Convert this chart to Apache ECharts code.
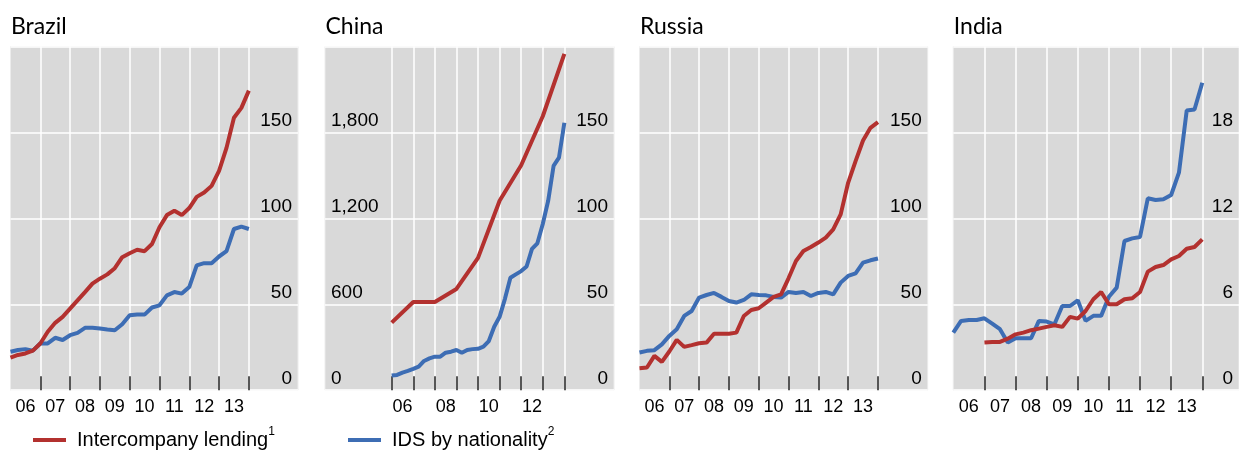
<!DOCTYPE html>
<html>
<head>
<meta charset="utf-8">
<script src="https://cdn.jsdelivr.net/npm/echarts@6/dist/echarts.min.js"></script>
<style>
  html, body { margin: 0; padding: 0; background: #fff; }
  #chart { width: 1239px; height: 451px; }
</style>
</head>
<body>
<div id="chart"></div>
<script>
// quarterly observations, start of 2006 to end of 2013 (33 points)
const brazilLending = [18.9, 20.5, 21.4, 23, 27.2, 34, 39.2, 42.7, 47.5, 52.3, 57.1, 62, 64.9, 67.4, 71, 77.4, 79.7,
  81.7, 80.9, 85.1, 94.8, 101.9, 104.4, 101.9, 106, 112.5, 115, 118.9, 127.6, 141, 158.5, 164.3, 174.3]
const brazilIds = [22.4, 23.4, 23.9, 23, 27.2, 27.2, 30.5, 29.2, 32, 33.4, 36.3, 36.3, 35.9, 35.3, 34.9, 38.4, 43.6,
  44, 44, 48.1, 49.4, 55.2, 57.1, 56.2, 60, 72.6, 73.9, 73.9, 77.8, 80.9, 93.8, 95.2, 93.8]

// China lending is annual (left scale), IDS quarterly (right scale)
const chinaYears = [2006, 2007, 2008, 2009, 2010, 2011, 2012, 2013, 2014]
const chinaLending = [472, 616, 616, 707, 924, 1323, 1571, 1913, 2349]
const chinaIds = [8.5, 8.9, 10.2, 11.2, 12.4, 13.7, 17, 18.5, 19.5, 19.5, 21.8, 22.4, 23.4, 21.8, 23.4, 23.9, 24.1,
  25.3, 28.6, 36.9, 42.7, 53.3, 65.4, 67.4, 69.3, 72, 82.2, 85.5, 96.7, 110.2, 130.5, 135.3, 155.6]

const russiaLending = [12.8, 13.2, 20, 16.5, 22.5, 29.3, 25.2, 26.2, 27.3, 27.7, 32.9, 32.9, 32.9, 33.5, 43.2, 46.7,
  47.7, 51, 54.3, 55.8, 65.1, 75.2, 81, 83.3, 85.9, 88.8, 93.6, 102.3, 120.7, 133.3, 145.3, 152.7, 156]
const russiaIds = [21.9, 22.9, 23.3, 26.7, 31.6, 35.5, 43.2, 46.1, 53.9, 55.4, 56.6, 54.3, 51.9, 51, 52.5, 55.8, 55.4,
  55.2, 54.3, 53.9, 57.2, 56.6, 57.2, 54.8, 56.6, 57.2, 55.8, 62.6, 66.5, 68, 74.2, 75.6, 76.6]

// India lending starts in 2007 (29 points)
const indiaLending = [3.33, 3.37, 3.37, 3.6, 3.9, 4.02, 4.19, 4.3, 4.42, 4.53, 4.42, 5.12, 5, 5.53, 6.35, 6.86, 6, 6,
  6.35, 6.42, 6.86, 8.28, 8.6, 8.74, 9.14, 9.37, 9.88, 10, 10.53]
const indiaIds = [4.02, 4.84, 4.9, 4.9, 5.02, 4.65, 4.26, 3.33, 3.63, 3.63, 3.63, 4.84, 4.79, 4.6, 5.88, 5.88, 6.28,
  4.84, 5.19, 5.19, 6.53, 7.16, 10.42, 10.6, 10.7, 13.4, 13.28, 13.33, 13.63, 15.19, 19.53, 19.6, 21.47]

const yearTicks = [2007, 2008, 2009, 2010, 2011, 2012, 2013, 2014]
const chinaYearTicks = [2006, 2007, 2008, 2009, 2010, 2011, 2012, 2013, 2014]
const yearLabels = [2006.5, 2007.5, 2008.5, 2009.5, 2010.5, 2011.5, 2012.5, 2013.5]
const chinaYearLabels = [2006.5, 2008.5, 2010.5, 2012.5]

const RED = '#b3312f'
const BLUE = '#3d6db4'
const NUM_FONT = '"Liberation Sans", Arial, sans-serif'

// dates for quarterly series
const quarterDates = (from, n) => Array.from({ length: n }, (_, i) => from + i / 4)
const toPairs = (xs, ys) => ys.map((v, i) => [xs[i], v])

const panels = [
  { name: 'Brazil', left: 10.5, width: 287.5, min: 2006, max: 2015.65, ticks: yearTicks, labels: yearLabels },
  { name: 'China', left: 325, width: 289, min: 2002.91, max: 2016.3, ticks: chinaYearTicks, labels: chinaYearLabels },
  { name: 'Russia', left: 639.5, width: 288.2, min: 2006, max: 2015.67, ticks: yearTicks, labels: yearLabels },
  { name: 'India', left: 953.3, width: 287, min: 2006, max: 2015.18, ticks: yearTicks, labels: yearLabels }
]

const yLabel = {
  inside: true,
  showMaxLabel: false,
  margin: 6,
  fontSize: 19,
  lineHeight: 23,
  verticalAlign: 'bottom',
  color: '#000',
  fontFamily: NUM_FONT
}

const makeY = (gridIndex, position, max, interval, split, fmt) => ({
  type: 'value',
  gridIndex,
  position,
  min: 0,
  max,
  interval,
  axisLine: { show: false },
  axisTick: { show: false },
  splitLine: { show: split, lineStyle: { color: '#fff', width: 1.5 } },
  axisLabel: Object.assign({}, yLabel, fmt ? { formatter: fmt } : {})
})

const lineSeries = (name, color, xi, yi, data) => ({
  name,
  type: 'line',
  xAxisIndex: xi,
  yAxisIndex: yi,
  data,
  showSymbol: false,
  symbol: 'none',
  lineStyle: { width: 4, color },
  itemStyle: { color },
  z: 3
})

const legendItem = (name, left, sup) => ({
  data: [name],
  left,
  top: 426,
  padding: 0,
  icon: 'rect',
  itemWidth: 33,
  itemHeight: 4,
  formatter: (n) => `{a|${n}}{s|${sup}}`,
  textStyle: {
    padding: [0, 0, 0, 6],
    rich: {
      a: { fontSize: 20, lineHeight: 28, color: '#000', fontFamily: NUM_FONT },
      s: { fontSize: 12, lineHeight: 12, verticalAlign: 'top', color: '#000', fontFamily: NUM_FONT }
    }
  }
})

const generateChartOption = () => {
  const q33 = quarterDates(2006, 33)
  const q29 = quarterDates(2007, 29)

  return {
    animation: false,
    title: panels.map((p) => ({
      text: p.name,
      left: p.left + 0.5,
      top: 15,
      padding: 0,
      textStyle: { fontFamily: 'Lato', fontSize: 23, fontWeight: 'normal', color: '#000' }
    })),
    legend: [
      legendItem('Intercompany lending', 33, 1),
      legendItem('IDS by nationality', 348, 2)
    ],
    grid: panels.map((p) => ({
      left: p.left,
      width: p.width,
      top: 46.5,
      height: 343.7,
      show: true,
      backgroundColor: '#d9d9d9',
      borderColor: '#ececec',
      borderWidth: 1
    })),
    xAxis: panels.map((p, i) => ({
      type: 'value',
      gridIndex: i,
      min: p.min,
      max: p.max,
      axisLine: { show: false },
      axisTick: {
        show: true,
        inside: true,
        length: 14,
        customValues: p.ticks,
        lineStyle: { color: '#222', width: 1.5 }
      },
      splitLine: { show: true, lineStyle: { color: '#fff', width: 1.5 } },
      axisLabel: {
        customValues: p.labels,
        formatter: (v) => String(Math.floor(v) % 100).padStart(2, '0'),
        fontSize: 18,
        margin: 8,
        color: '#000',
        fontFamily: NUM_FONT
      }
    })),
    yAxis: [
      makeY(0, 'right', 200, 50, true),
      makeY(1, 'left', 2400, 600, true, (v) => v.toLocaleString('en-US')),
      makeY(1, 'right', 200, 50, false),
      makeY(2, 'right', 200, 50, true),
      makeY(3, 'right', 24, 6, true)
    ],
    series: [
      lineSeries('IDS by nationality', BLUE, 0, 0, toPairs(q33, brazilIds)),
      lineSeries('Intercompany lending', RED, 0, 0, toPairs(q33, brazilLending)),
      lineSeries('IDS by nationality', BLUE, 1, 2, toPairs(q33, chinaIds)),
      lineSeries('Intercompany lending', RED, 1, 1, toPairs(chinaYears, chinaLending)),
      lineSeries('IDS by nationality', BLUE, 2, 3, toPairs(q33, russiaIds)),
      lineSeries('Intercompany lending', RED, 2, 3, toPairs(q33, russiaLending)),
      lineSeries('IDS by nationality', BLUE, 3, 4, toPairs(q33, indiaIds)),
      lineSeries('Intercompany lending', RED, 3, 4, toPairs(q29, indiaLending))
    ]
  }
}

const chartInstance = echarts.init(document.getElementById('chart'))
chartInstance.setOption(generateChartOption())
</script>
</body>
</html>
